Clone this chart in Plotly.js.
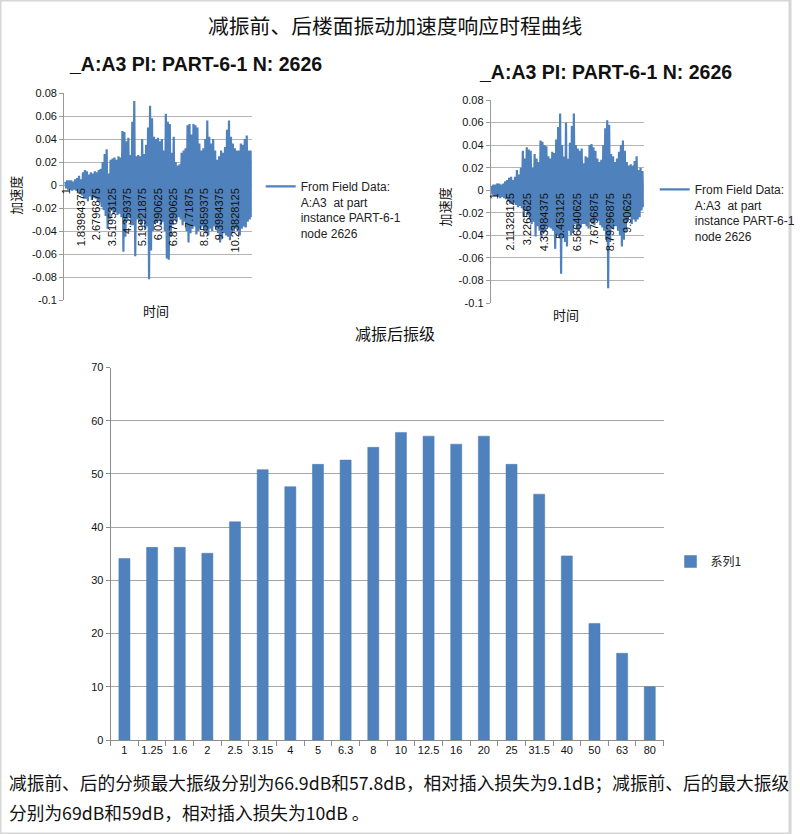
<!DOCTYPE html>
<html>
<head>
<meta charset="utf-8">
<script src="https://cdn.plot.ly/plotly-3.0.1.min.js"></script>
<style>html,body{margin:0;padding:0;background:#fff;}#chart{width:800px;height:834px;}</style>
</head>
<body>
<div id="chart"></div>
<script>
// ---------- data ----------
const mainTitle = "减振前、后楼面振动加速度响应时程曲线";
const panelTitle = "_A:A3 PI: PART-6-1 N: 2626";
const seriesName = "From Field Data:<br>A:A3  at part<br>instance PART-6-1<br>node 2626";

// before damping: sampled envelope (peak / trough per sample)
const beforeStart = 0.946, beforeStep = 0.108;
const beforeUpper = [0.003,0.004,0.004,0.004,0.003,0.005,0.006,0.008,0.005,0.011,
 0.013,0.012,0.009,0.011,0.010,0.012,0.011,0.013,0.014,0.020,
 0.027,0.031,0.010,0.022,0.023,0.024,0.022,0.025,0.024,0.047,
 0.046,0.038,0.041,0.026,0.055,0.073,0.025,0.026,0.025,0.040,
 0.027,0.035,0.050,0.069,0.058,0.042,0.040,0.041,0.038,0.040,
 0.030,0.062,0.055,0.053,0.028,0.042,0.020,0.017,0.018,0.028,
 0.030,0.032,0.052,0.053,0.044,0.053,0.052,0.050,0.036,0.030,
 0.032,0.040,0.056,0.042,0.036,0.040,0.030,0.022,0.025,0.030,
 0.028,0.033,0.048,0.056,0.042,0.036,0.032,0.030,0.030,0.036,
 0.035,0.040,0.043,0.030,0.030];
const beforeLower = [-0.003,-0.004,-0.004,-0.005,-0.004,-0.005,-0.006,-0.008,-0.009,-0.011,
 -0.012,-0.014,-0.010,-0.013,-0.011,-0.012,-0.014,-0.015,-0.019,-0.022,
 -0.027,-0.038,-0.030,-0.022,-0.025,-0.024,-0.026,-0.025,-0.028,-0.058,
 -0.045,-0.030,-0.028,-0.035,-0.035,-0.062,-0.030,-0.032,-0.035,-0.030,
 -0.038,-0.036,-0.082,-0.057,-0.040,-0.034,-0.033,-0.030,-0.035,-0.032,
 -0.040,-0.064,-0.065,-0.045,-0.035,-0.030,-0.032,-0.028,-0.030,-0.035,
 -0.032,-0.040,-0.050,-0.042,-0.038,-0.036,-0.043,-0.040,-0.038,-0.036,
 -0.040,-0.042,-0.044,-0.038,-0.040,-0.036,-0.038,-0.042,-0.050,-0.046,
 -0.042,-0.044,-0.045,-0.048,-0.042,-0.040,-0.038,-0.040,-0.044,-0.038,
 -0.036,-0.037,-0.032,-0.030,-0.028];

// after damping
const afterStart = 0.824, afterStep = 0.131;
const afterUpper = [0.004,0.005,0.005,0.006,0.006,0.005,0.006,0.008,0.009,0.011,
 0.012,0.009,0.012,0.018,0.014,0.020,0.035,0.028,0.038,0.036,
 0.035,0.020,0.032,0.028,0.025,0.044,0.043,0.040,0.039,0.030,
 0.028,0.034,0.033,0.045,0.056,0.068,0.040,0.030,0.060,0.028,
 0.042,0.057,0.068,0.040,0.037,0.035,0.037,0.024,0.030,0.029,
 0.040,0.041,0.038,0.035,0.028,0.025,0.027,0.040,0.055,0.062,
 0.058,0.032,0.030,0.025,0.028,0.034,0.040,0.044,0.035,0.025,
 0.022,0.023,0.022,0.026,0.030,0.018,0.020,0.017];
const afterLower = [-0.004,-0.005,-0.005,-0.006,-0.007,-0.006,-0.007,-0.008,-0.010,-0.012,
 -0.012,-0.011,-0.013,-0.015,-0.014,-0.016,-0.024,-0.018,-0.022,-0.026,
 -0.030,-0.028,-0.041,-0.032,-0.036,-0.042,-0.038,-0.036,-0.032,-0.033,
 -0.034,-0.036,-0.052,-0.040,-0.042,-0.074,-0.042,-0.046,-0.050,-0.036,
 -0.040,-0.038,-0.030,-0.034,-0.036,-0.033,-0.030,-0.030,-0.032,-0.034,
 -0.028,-0.030,-0.031,-0.027,-0.027,-0.031,-0.033,-0.036,-0.044,-0.087,
 -0.046,-0.034,-0.032,-0.032,-0.036,-0.040,-0.050,-0.044,-0.036,-0.028,
 -0.024,-0.030,-0.026,-0.028,-0.026,-0.024,-0.018,-0.015];

const beforeTickVals = [1,1.83984375,2.6796875,3.51953125,4.359375,5.19921875,6.0390625,6.87890625,7.71875,8.55859375,9.3984375,10.23828125];
const beforeTickText = ["1","1.83984375","2.6796875","3.51953125","4.359375","5.19921875","6.0390625","6.87890625","7.71875","8.55859375","9.3984375","10.23828125"];
const afterTickVals = [1,2.11328125,3.2265625,4.33984375,5.453125,6.56640625,7.6796875,8.79296875,9.90625];
const afterTickText = ["1","2.11328125","3.2265625","4.33984375","5.453125","6.56640625","7.6796875","8.79296875","9.90625"];
const accelTickVals = [-0.1,-0.08,-0.06,-0.04,-0.02,0,0.02,0.04,0.06,0.08];
const accelTickText = ["-0.1","-0.08","-0.06","-0.04","-0.02","0","0.02","0.04","0.06","0.08"];

const barTitle = "减振后振级";
const barSeries = "系列1";
const freqLabels = ["1","1.25","1.6","2","2.5","3.15","4","5","6.3","8","10","12.5","16","20","25","31.5","40","50","63","80"];
const levels = [34.1,36.2,36.2,35.1,41.0,50.8,47.6,51.8,52.6,55.0,57.8,57.1,55.6,57.1,51.8,46.2,34.6,21.9,16.3,10.0];

const noteLine1 = "减振前、后的分频最大振级分别为66.9dB和57.8dB，相对插入损失为9.1dB；减振前、后的最大振级";
const noteLine2 = "分别为69dB和59dB，相对插入损失为10dB 。";

// ---------- build ----------
function wave(start, step, up, lo){
  const x=[], y=[];
  for(let i=0;i<up.length;i++){
    x.push(start+i*step); y.push(up[i]);
    x.push(start+(i+0.5)*step); y.push(lo[i]);
  }
  return {x,y};
}
const w1 = wave(beforeStart, beforeStep, beforeUpper, beforeLower);
const w2 = wave(afterStart, afterStep, afterUpper, afterLower);
const BLUE = "#4f81bd";
const W = 800, H = 834;
const px = v => v / W, py = v => 1 - v / H;

const traces = [
  {type:"scatter", mode:"lines", x:w1.x, y:w1.y, name:seriesName, xaxis:"x", yaxis:"y",
   line:{color:BLUE, width:2.2}, legend:"legend"},
  {type:"scatter", mode:"lines", x:w2.x, y:w2.y, name:seriesName, xaxis:"x2", yaxis:"y2",
   line:{color:BLUE, width:2.2}, legend:"legend2"},
  {type:"bar", x:freqLabels, y:levels, name:barSeries, xaxis:"x3", yaxis:"y3",
   marker:{color:BLUE, line:{color:"#4a7ab3", width:0.5}}, legend:"legend3"}
];

const SANS = "Liberation Sans, Arial, sans-serif";
const CJK = "Noto Sans CJK SC, sans-serif";
const GRID = "#b5b5b5";
const AX = "#9a9a9a";

function timeX(domain, range, pos, tv, tt){
  return {domain, range, anchor:"free", position:pos, tickvals:tv, ticktext:tt, tickangle:-90,
    showgrid:false, zeroline:false, showline:false, ticks:"",
    tickfont:{family:SANS, size:11, color:"#111"}, fixedrange:true};
}
function timeY(domain, anchor){
  return {domain, anchor, range:[-0.1,0.08], tickvals:accelTickVals, ticktext:accelTickText,
    showgrid:true, gridcolor:GRID, gridwidth:1, zeroline:false, showline:true, linecolor:AX,
    ticks:"outside", ticklen:4, tickcolor:AX, tickfont:{family:SANS, size:11, color:"#111"}, fixedrange:true};
}

const ann = (text, x, y, size, opts={}) => Object.assign({text, x:px(x), y:py(y), xref:"paper", yref:"paper",
  showarrow:false, xanchor:"center", yanchor:"middle", font:{family:CJK, size, color:"#111"}}, opts);

const layout = {
  width:W, height:H, margin:{l:0,r:0,t:0,b:0},
  paper_bgcolor:"#ffffff", plot_bgcolor:"rgba(0,0,0,0)",
  font:{family:SANS, size:11, color:"#111"},
  showlegend:true,
  xaxis: timeX([px(65),px(255)], [0.89,11.16], py(185), beforeTickVals, beforeTickText),
  yaxis: timeY([py(300),py(93)], "x"),
  xaxis2: timeX([px(497),px(652)], [0.78,11.0], py(190), afterTickVals, afterTickText),
  yaxis2: timeY([py(303),py(100)], "x2"),
  xaxis3: {domain:[px(112),px(672)], anchor:"y3", type:"category", showline:true, linecolor:"#8c8c8c",
    ticks:"outside", tickson:"boundaries", ticklen:5, tickcolor:"#8c8c8c", showgrid:false, tickangle:0,
    tickfont:{family:SANS, size:11, color:"#111"}, fixedrange:true},
  yaxis3: {domain:[py(740),py(367.5)], anchor:"x3", range:[0,70], dtick:10, showgrid:true, gridcolor:"#a6a6a6",
    zeroline:false, showline:true, linecolor:"#8c8c8c", ticks:"outside", ticklen:4, tickcolor:"#8c8c8c",
    tickfont:{family:SANS, size:11, color:"#111"}, fixedrange:true},
  bargap:0.6,
  legend: {x:px(264), y:py(172), xanchor:"left", yanchor:"top", valign:"top", bgcolor:"rgba(0,0,0,0)",
    font:{family:SANS, size:12, color:"#222"}, itemclick:false},
  legend2:{x:px(663), y:py(175), xanchor:"left", yanchor:"top", valign:"top", bgcolor:"rgba(0,0,0,0)",
    font:{family:SANS, size:12, color:"#222"}, itemclick:false},
  legend3:{x:px(679), y:py(547), xanchor:"left", yanchor:"top", bgcolor:"rgba(0,0,0,0)",
    font:{family:CJK, size:12, color:"#222"}, itemclick:false},
  annotations:[
    ann(mainTitle, 401, 25, 20.8),
    ann(panelTitle, 198, 64, 19.5, {font:{family:SANS, size:19.5, color:"#111", weight:"bold"}}),
    ann(panelTitle, 613, 72, 19.5, {font:{family:SANS, size:19.5, color:"#111", weight:"bold"}}),
    ann("加速度", 15, 195, 13, {textangle:-90}),
    ann("加速度", 450, 207, 13, {textangle:-90}),
    ann("时间", 158, 310, 13),
    ann("时间", 573, 314, 13),
    ann(barTitle, 400, 333, 16),
    ann(noteLine1, 7, 782, 17.7, {xanchor:"left"}),
    ann(noteLine2, 7, 812, 17.7, {xanchor:"left"})
  ],
  shapes:[
    {type:"rect", xref:"paper", yref:"paper", x0:0, x1:1, y0:0, y1:1, line:{color:"#d6d6d6", width:3}}
  ]
};

Plotly.newPlot("chart", traces, layout, {displayModeBar:false, staticPlot:true});
</script>
</body>
</html>
